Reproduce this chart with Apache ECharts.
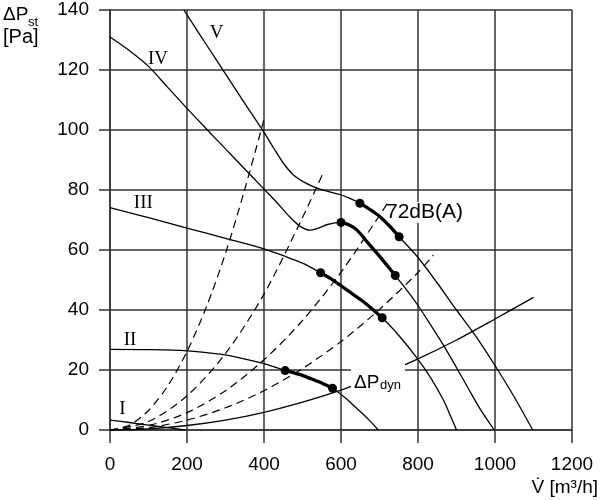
<!DOCTYPE html>
<html><head><meta charset="utf-8">
<script src="https://cdn.jsdelivr.net/npm/echarts@6/dist/echarts.min.js"></script>
<style>html,body{margin:0;padding:0;background:#fff}#c{width:600px;height:500px}</style>
</head><body><div id="c"></div>
<script>
// ---- data ----
const xTicks = [0, 200, 400, 600, 800, 1000, 1200];
const yTicks = [0, 20, 40, 60, 80, 100, 120, 140];

const curveI   = [[0,3.3],[50,2.5],[100,1.6],[150,0.8],[195,0]];
const curveII  = [[0,26.9],[100,26.8],[200,26.4],[286,25.3],[325,24.4],[398,22.2],[455,19.8],[490,18.6],[520,17.2],[550,15.7],[578,13.9],[610,10.8],[640,7.3],[670,3.7],[697,0]];
const curveIII = [[0,74.1],[100,70.8],[200,67.3],[300,63.9],[400,60.4],[450,58.1],[500,55.6],[547,52.4],[580,49.9],[615,46.7],[660,42.6],[707,37.4],[753,31.1],[798,23.9],[831,17.8],[866,10],[885,4.5],[900,0]];
const curveIV  = [[0,131],[50,126.5],[100,121.2],[150,114.2],[200,107.2],[250,100.4],[300,93.7],[350,87],[400,80.3],[435,75.6],[467,71],[495,67.8],[520,66.6],[540,67.2],[565,68.5],[600,69.2],[620,68.4],[641,66.7],[670,62.4],[701,57.8],[741,51.5],[770,46.8],[800,41.5],[833,35],[866,28.3],[900,20.8],[930,14],[960,7.3],[998,0]];
const curveV   = [[192,140],[250,128.5],[300,118.7],[350,108.9],[400,99.2],[425,94],[450,89],[475,85.2],[510,82.2],[545,80.3],[597,78.5],[623,77.2],[649,75.6],[675,73.5],[701,71.1],[726,68],[751,64.4],[800,57.5],[850,49],[900,40],[950,31.3],[1000,21.5],[1050,11],[1098,0]];
const curveDyn = [[0,0],[100,0.4],[200,1.5],[300,3.3],[400,5.9],[500,9.3],[600,13.3],[700,18.1],[800,23.7],[900,30],[1000,37],[1100,44.2]];

const sys1 = [[0,0],[50,1.6],[100,6.5],[150,14.7],[200,26.2],[250,40.9],[300,58.9],[350,80.2],[401,104]];
const sys2 = [[0,0],[100,2.85],[200,11.4],[300,25.5],[400,45.3],[500,70.8],[554,85.8]];
const sys3 = [[0,0],[100,1.5],[200,5.8],[300,13.1],[400,23.4],[500,36.5],[600,52.6],[700,71.5],[720,75.5]];
const sys4 = [[0,0],[100,0.8],[200,3.3],[300,7.4],[400,13.1],[500,20.5],[600,29.5],[700,40.2],[800,52.5],[840,58.3]];

const opV   = [[649,75.6],[675,73.5],[701,71.1],[726,68],[751,64.4]];
const opIV  = [[600,69.2],[620,68.4],[641,66.7],[670,62.4],[701,57.8],[741,51.5]];
const opIII = [[547,52.4],[580,49.9],[615,46.7],[660,42.6],[707,37.4]];
const opII  = [[455,19.8],[490,18.6],[520,17.2],[550,15.7],[578,13.9]];
const opDots = [[649,75.6],[751,64.4],[600,69.2],[741,51.5],[547,52.4],[707,37.4],[455,19.8],[578,13.9]];

const curveNames = ['I','II','III','IV','V'];
const noiseLabel = '72dB(A)';
// ----------------------------------------

const SANS = '"Liberation Sans", Arial, sans-serif';
const SERIF = '"Liberation Serif", "Times New Roman", serif';
const gridCol = '#333';

function thin(data){ return {type:'line', data, smooth:0.3, showSymbol:false, symbol:'none', silent:true,
  lineStyle:{color:'#000', width:1.3}, z:3}; }
function dashed(data){ return {type:'line', data, smooth:0.3, showSymbol:false, symbol:'none', silent:true,
  lineStyle:{color:'#000', width:1.2, type:[8,5]}, z:3}; }
function thick(data){ return {type:'line', data, smooth:0.3, showSymbol:false, symbol:'none', silent:true,
  lineStyle:{color:'#000', width:3.3}, z:4}; }

const chart = echarts.init(document.getElementById('c'), null, {renderer:'canvas'});
const labelPos = [[122.5,409],[130,340],[143.3,203.3],[158,59],[216.7,33.3]];

chart.setOption({
  animation:false,
  backgroundColor:'#fff',
  grid:{left:110, right:28, top:10, bottom:70, containLabel:false},
  xAxis:{type:'value', min:xTicks[0], max:xTicks[xTicks.length-1], interval:xTicks[1]-xTicks[0],
    axisLine:{show:true, lineStyle:{color:gridCol, width:1.5}},
    axisTick:{show:true, length:13, lineStyle:{color:gridCol, width:1.5}},
    splitLine:{show:true, lineStyle:{color:gridCol, width:1.5}},
    axisLabel:{fontSize:19, color:'#000', margin:25, fontFamily:SANS, formatter:v=>String(v)}},
  yAxis:{type:'value', min:yTicks[0], max:yTicks[yTicks.length-1], interval:yTicks[1]-yTicks[0],
    axisLine:{show:true, lineStyle:{color:gridCol, width:1.5}},
    axisTick:{show:true, length:11, lineStyle:{color:gridCol, width:1.5}},
    splitLine:{show:true, lineStyle:{color:gridCol, width:1.5}},
    axisLabel:{fontSize:19, color:'#000', margin:21, fontFamily:SANS, formatter:v=>String(v)}},
  series:[
    dashed(sys1), dashed(sys2), dashed(sys3), dashed(sys4),
    thin(curveI), thin(curveII), thin(curveIII), thin(curveIV), thin(curveV), thin(curveDyn),
    thick(opV), thick(opIV), thick(opIII), thick(opII),
    {type:'scatter', data:opDots, symbol:'circle', symbolSize:9, itemStyle:{color:'#000', opacity:1}, silent:true, z:5}
  ],
  graphic:[
    {type:'text', x:3, y:14.5, z:100, style:{text:'ΔP', font:'19px '+SANS, fill:'#000', verticalAlign:'middle', align:'left'}},
    {type:'text', x:28, y:22, z:100, style:{text:'st', font:'13px '+SANS, fill:'#000', verticalAlign:'middle', align:'left'}},
    {type:'text', x:3, y:37, z:100, style:{text:'[Pa]', font:'20px '+SANS, fill:'#000', verticalAlign:'middle', align:'left'}},
    {type:'text', x:598, y:488, z:100, style:{text:'V\u0307 [m³/h]', font:'19px '+SANS, fill:'#000', verticalAlign:'middle', align:'right'}},
    ...curveNames.map((n,i)=>({type:'text', x:labelPos[i][0], y:labelPos[i][1], z:100,
        style:{text:n, font:'19px '+SERIF, fill:'#000', align:'center', verticalAlign:'middle'}})),
    {type:'rect', shape:{x:404, y:202, width:66, height:21}, z:99, style:{fill:'#fff'}},
    {type:'text', x:386, y:212.5, z:100, style:{text:noiseLabel, font:'21px '+SANS, fill:'#000', verticalAlign:'middle', align:'left'}},
    {type:'rect', shape:{x:351, y:364, width:54, height:29}, z:99, style:{fill:'#fff'}},
    {type:'text', x:354, y:383, z:100, style:{text:'ΔP', font:'19px '+SANS, fill:'#000', verticalAlign:'middle', align:'left'}},
    {type:'text', x:380, y:385.5, z:100, style:{text:'dyn', font:'13px '+SANS, fill:'#000', verticalAlign:'middle', align:'left'}}
  ]
});
</script></body></html>
